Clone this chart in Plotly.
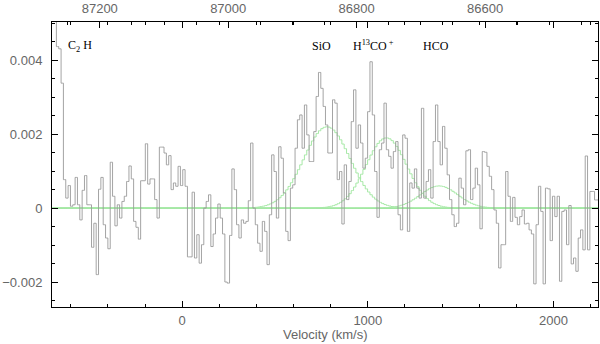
import numpy as np
import plotly.graph_objects as go

# Spectral axis: channel centres (km/s)
v_first = -696.0
dv = 12.6

# Flux density per channel, in units of 1e-3
flux_e3 = [
    6.0, 6.0, 4.37, 4.31, 3.38, 0.77, 0.27, 0.61, 0.05, 0.09,
    0.83, 0.09, -0.32, 0.48, 0.88, 0.09, 0.09, -1.06, -0.41, -1.80,
    0.51, 0.83, -0.45, -0.81, -1.10, 1.24, 0.32, -0.48, 0.09, -0.27,
    0.18, 0.32, 0.72, 1.14, 0.79, -0.36, -0.52, -0.84, 0.74, 0.74,
    1.74, 0.65, 0.79, 0.79, 0.23, -0.27, 1.65, 1.65, 1.49, 1.17,
    1.42, 0.50, 0.68, 0.59, 1.13, 0.61, 1.04, 0.59, -1.32, -1.32,
    0.43, -1.35, -0.72, -1.49, -0.99, 0.0, 0.18, 0.36, -1.04, -0.70,
    -0.27, 0.11, -0.27, -0.70, -2.00, -2.03, -0.74, 1.06, 0.50, -0.45,
    -0.81, -0.32, -0.41, -0.36, 0.20, 1.76, 0.0, -0.45, -0.95, -1.17,
    -0.36, -0.63, -1.53, -0.18, 1.44, 0.99, -0.27, 1.66, 1.35, 0.41,
    -0.63, -0.88, 0.54, 0.63, 1.62, 2.39, 2.52, 1.62, 2.79, 1.98,
    1.26, 1.26, 2.07, 3.02, 3.67, 3.24, 2.75, 2.25, 1.49, 1.49,
    2.93, 2.84, 0.77, 0.99, -0.43, 1.17, 0.23, 0.72, 2.34, 3.20,
    1.62, 2.25, 1.76, 1.08, 1.35, 2.61, 3.96, 2.52, 0.99, -0.25,
    1.58, 1.76, 2.84, 1.58, 1.40, 1.08, 1.53, 1.80, -0.18, -0.59,
    1.98, 1.89, -0.63, 0.68, 0.54, 1.06, 0.54, 0.27, 2.70, 0.27,
    0.72, 1.04, 0.27, 1.80, 2.79, 1.80, 1.17, 2.21, 1.62, 0.90,
    0.23, -0.18, -0.50, -0.41, 0.81, 0.54, 0.09, 1.55, 1.58, 0.23,
    0.54, 1.08, 0.63, -0.56, 1.53, 1.51, 1.13, 0.86, 0.50, -0.05,
    -0.41, -1.62, -0.99, -0.99, 0.99, 0.32, -0.36, 0.29, -0.25, -0.45,
    -0.23, -0.05, -0.43, -0.41, -0.59, -0.70, -2.05, -0.45, 0.59, -0.09,
    -2.05, 0.54, 0.52, -0.88, 0.32, -0.23, 0.32, -1.98, -0.09, -0.05,
    -0.99, 0.07, -1.51, -1.35, -1.71, -0.81, -0.59, -1.13, 1.41, -1.13,
    0.45, 0.45, 0.22, 0.22,
]

# Gaussian fit components (centre km/s, peak 1e-3, sigma km/s)
line_names = ["SiO", "H13CO+", "HCO"]
line_centres = [780.0, 1100.0, 1384.0]
line_peaks_e3 = [2.2, 1.9, 0.6]
line_sigmas = [125.0, 110.0, 100.0]

# Line labels
label_texts = ["C<sub>2</sub> H", "SiO", "H<sup>13</sup>CO<sup> +</sup>", "HCO"]
label_vel = [-628.0, 749.0, 909.0, 1369.0]
label_anchor = ["left", "center", "left", "center"]

# Axis settings
vel_range = [-700.8, 2239.4]
freq_range = [87274.4, 86424.2]
flux_range = [-0.002676, 0.005035]

vel = v_first + dv * np.arange(len(flux_e3))
flux = np.array(flux_e3) * 1e-3

fig = go.Figure()

fig.add_trace(go.Scatter(x=vel_range, y=[0, 0], mode="lines",
                         line=dict(color="#5ad65a", width=1), hoverinfo="skip"))

for c, a, s in zip(line_centres, line_peaks_e3, line_sigmas):
    g = a * 1e-3 * np.exp(-0.5 * ((vel - c) / s) ** 2)
    fig.add_trace(go.Scatter(x=vel, y=g, mode="lines", line_shape="hvh",
                             line=dict(color="#a6e8a6", width=1), hoverinfo="skip"))

fig.add_trace(go.Scatter(x=vel, y=flux, mode="lines", line_shape="hvh",
                         line=dict(color="#9a9a9a", width=0.9)))

fig.add_trace(go.Scatter(x=freq_range, y=[None, None], xaxis="x2", mode="lines",
                         hoverinfo="skip", showlegend=False))

tickfont = dict(family="Liberation Sans", size=13, color="#666666")

fig.update_layout(
    width=600, height=344,
    margin=dict(l=52, r=2, t=22, b=37),
    plot_bgcolor="white", paper_bgcolor="white",
    showlegend=False,
    xaxis=dict(range=vel_range, tickmode="linear", tick0=0, dtick=1000,
               ticks="inside", ticklen=6, tickcolor="black", tickwidth=1,
               minor=dict(dtick=200, tick0=0, ticks="inside", ticklen=3,
                          tickcolor="black", tickwidth=1),
               showline=True, linecolor="black", linewidth=1, mirror="ticks",
               showgrid=False, zeroline=False, tickfont=tickfont,
               ticklabelstandoff=1, automargin=False),
    xaxis2=dict(range=freq_range, overlaying="x", side="top", tickmode="linear",
                tick0=87000, dtick=200, tickformat="d", ticks="inside", ticklen=6,
                tickcolor="black", tickwidth=1,
                minor=dict(dtick=50, tick0=87000, ticks="inside", ticklen=3,
                           tickcolor="black", tickwidth=1),
                showline=False, showgrid=False, zeroline=False, tickfont=tickfont,
                ticklabelstandoff=5, automargin=False),
    yaxis=dict(range=flux_range, tickmode="linear", tick0=0, dtick=0.002,
               ticks="inside", ticklen=6, tickcolor="black", tickwidth=1,
               minor=dict(dtick=0.0005, tick0=0, ticks="inside", ticklen=3,
                          tickcolor="black", tickwidth=1),
               showline=True, linecolor="black", linewidth=1, mirror="ticks",
               showgrid=False, zeroline=False, tickfont=tickfont,
               ticklabelstandoff=6, automargin=False),
)

for t, xv, anc in zip(label_texts, label_vel, label_anchor):
    fig.add_annotation(x=xv, y=0.916, xref="x", yref="paper", text=t,
                       showarrow=False, xanchor=anc, yanchor="middle",
                       font=dict(family="Liberation Serif", size=12, color="black"))

fig.add_annotation(x=0.5, y=-0.0954, xref="paper", yref="paper",
                   text="Velocity (km/s)", showarrow=False,
                   xanchor="center", yanchor="middle",
                   font=dict(family="Liberation Sans", size=13, color="#666666"))

fig.write_html("out.html", config={"displayModeBar": False},
               post_script="document.body.style.margin='0';")
